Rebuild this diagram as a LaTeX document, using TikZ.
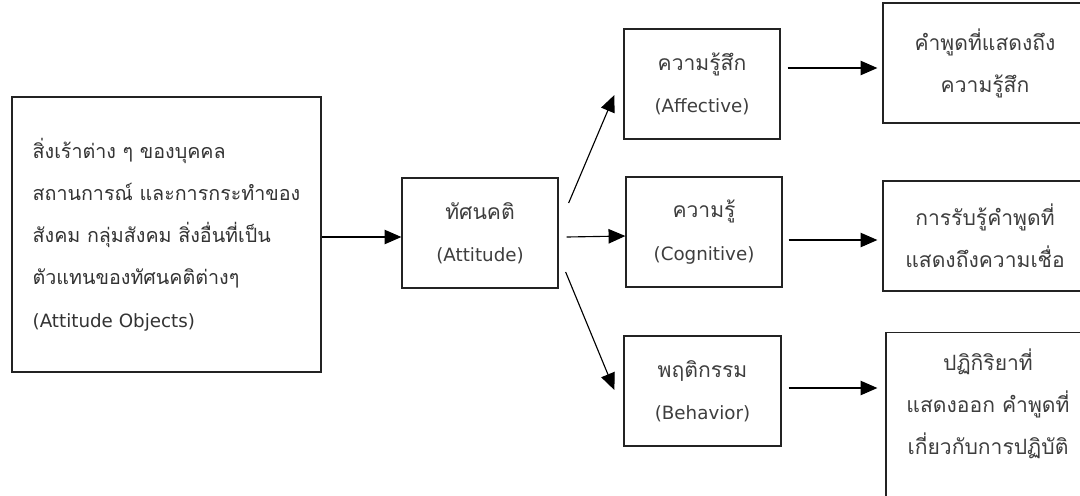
\documentclass[tikz,border=0pt]{standalone}
\usepackage{fontspec}
\setmainfont[Script=Thai]{Loma}
\newfontfamily\enfont{DejaVu Sans}
\newcommand{\en}[1]{{\enfont\fontsize{13}{30}\selectfont #1}}
\definecolor{txtgray}{RGB}{62,62,62}
\definecolor{boxline}{RGB}{35,35,35}
\usetikzlibrary{arrows.meta,calc}

\begin{document}
\begin{tikzpicture}[
  thbox/.style={draw=boxline,line width=0.9pt,align=center,text=txtgray,inner sep=2pt,
    font=\fontsize{15}{30}\selectfont,minimum width=3.9cm,minimum height=2.75cm},
  outbox/.style={thbox,minimum width=5.1cm},
  srcbox/.style={thbox,align=left,minimum width=7.725cm,minimum height=6.875cm,
    font=\fontsize{14}{30}\selectfont,text=black!80},
  arr/.style={-{Triangle[length=0.42cm,width=0.36cm]},line width=0.8pt}
]
  \useasboundingbox[fill=white] (0,0) rectangle (27,-12.375);
  \node[srcbox] (src) at (4.1625,-5.8625) {
    สิ่งเร้าต่าง ๆ ของบุคคล\\ สถานการณ์ และการกระทำของ\\ สังคม กลุ่มสังคม สิ่งอื่นที่เป็น\\
    ตัวแทนของทัศนคติต่างๆ\\ \en{(Attitude Objects)}};
  \node[thbox] (att) at (12.0,-5.825) {ทัศนคติ\\ \en{(Attitude)}};
  \node[thbox] (aff) at (17.55,-2.1) {ความรู้สึก\\ \en{(Affective)}};
  \node[thbox] (cog) at (17.6,-5.8) {ความรู้\\ \en{(Cognitive)}};
  \node[thbox,minimum width=3.925cm] (beh) at (17.5625,-9.775) {พฤติกรรม\\ \en{(Behavior)}};
  \node[outbox,minimum height=3cm] (affout) at (24.625,-1.575) {คำพูดที่แสดงถึง\\ ความรู้สึก};
  \node[outbox] (cogout) at (24.625,-5.9) {การรับรู้คำพูดที่\\ แสดงถึงความเชื่อ};
  \node[outbox,anchor=north,inner ysep=0.4cm] (behout) at (24.7,-8.3)
    {\parbox[b][6cm][t]{4.9cm}{\centering ปฏิกิริยาที่\\ แสดงออก คำพูดที่\\ เกี่ยวกับการปฏิบัติ}};

  \draw[arr] ($(src.east |- att.west)+(0,-0.1)$) -- ($(att.west)+(0,-0.1)$);
  \draw[arr] ($(att.east)+(0.2,-0.1)$) -- ($(cog.west)+(0,-0.1)$);
  \draw[arr] ($(att.east)+(0.25,0.75)$) -- ($(aff.west)+(-0.225,-0.275)$);
  \draw[arr] ($(att.east)+(0.175,-0.975)$) -- ($(beh.west)+(-0.225,0.025)$);
  \draw[arr] ($(aff.east)+(0.175,0.4)$) -- ($(aff.east -| affout.west)+(-0.125,0.4)$);
  \draw[arr] ($(cog.east)+(0.15,-0.2)$) -- ($(cog.east -| cogout.west)+(-0.125,-0.2)$);
  \draw[arr] ($(beh.east)+(0.175,0.075)$) -- ($(beh.east -| behout.west)+(-0.2,0.075)$);
\end{tikzpicture}
\end{document}
